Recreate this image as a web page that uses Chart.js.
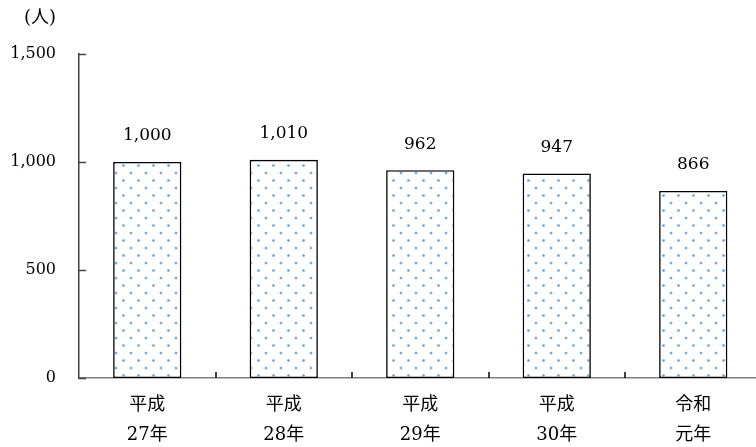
<!DOCTYPE html>
<html>
<head>
<meta charset="utf-8">
<script src="https://cdn.jsdelivr.net/npm/chart.js@4/dist/chart.umd.min.js"></script>
<style>
  html, body { margin: 0; padding: 0; background: #fff; overflow: hidden; }
  #wrap { width: 770px; height: 447px; position: relative; }
</style>
</head>
<body>
<div id="wrap"><canvas id="c"></canvas></div>
<script>
const categories = [['平成', '27年'], ['平成', '28年'], ['平成', '29年'], ['平成', '30年'], ['令和', '元年']];
const values = [1000, 1010, 962, 947, 866];
const yTicks = [0, 500, 1000, 1500];
const unitLabel = '(人)';

const FONT = '"DejaVu Serif", "Noto Sans CJK JP", serif';

function makePattern() {
  const t = document.createElement('canvas');
  t.width = 15; t.height = 15;
  const g = t.getContext('2d');
  g.fillStyle = '#fff';
  g.fillRect(0, 0, 15, 15);
  const dots = [[3.5, 0.5], [11, 8]];
  const draw = (r, col) => {
    g.fillStyle = col;
    dots.forEach(([x, y]) => {
      g.beginPath(); g.arc(x, y, r, 0, Math.PI * 2); g.fill();
      if (y < 2) { g.beginPath(); g.arc(x, y + 15, r, 0, Math.PI * 2); g.fill(); }
    });
  };
  draw(1.6, 'rgba(91,155,213,0.5)');
  draw(0.9, 'rgba(91,155,213,0.95)');
  return document.getElementById('c').getContext('2d').createPattern(t, 'repeat');
}

const extras = {
  id: 'extras',
  afterDraw(chart) {
    const ctx = chart.ctx;
    const x = chart.scales.x, y = chart.scales.y;
    ctx.save();
    ctx.strokeStyle = '#404040';
    ctx.lineWidth = 1.5;
    yTicks.forEach(v => {
      const py = Math.round(y.getPixelForValue(v)) + 0.5;
      ctx.beginPath(); ctx.moveTo(x.left, py); ctx.lineTo(x.left + 7, py); ctx.stroke();
    });
    ctx.strokeStyle = '#000';
    for (let i = 1; i < categories.length; i++) {
      const px = Math.round((x.getPixelForValue(i - 1) + x.getPixelForValue(i)) / 2);
      ctx.beginPath(); ctx.moveTo(px, y.bottom); ctx.lineTo(px, y.bottom - 6); ctx.stroke();
    }
    ctx.fillStyle = '#000';
    ctx.font = '17px ' + FONT;
    ctx.textAlign = 'center';
    ctx.textBaseline = 'middle';
    const meta = chart.getDatasetMeta(0);
    meta.data.forEach((bar, i) => {
      ctx.fillText(values[i].toLocaleString('en-US'), bar.x, bar.y - 26);
    });
    ctx.font = '18px ' + FONT;
    ctx.fillText(unitLabel, 40, 18);
    ctx.restore();
  }
};

new Chart(document.getElementById('c'), {
  type: 'bar',
  data: {
    labels: categories,
    datasets: [{
      data: values,
      backgroundColor: makePattern(),
      borderColor: '#000',
      borderWidth: 1.6,
      borderSkipped: false,
      barPercentage: 0.5,
      categoryPercentage: 1.0
    }]
  },
  options: {
    responsive: true,
    maintainAspectRatio: false,
    animation: false,
    layout: { padding: { top: 54, right: 8.5, left: 0, bottom: 0 } },
    plugins: { legend: { display: false }, tooltip: { enabled: false } },
    scales: {
      x: {
        grid: { display: false, drawTicks: false },
        border: { display: true, color: '#808080', width: 1.5 },
        ticks: {
          color: '#000',
          font: { family: FONT, size: 18, lineHeight: 1.68 },
          padding: 12,
          maxRotation: 0
        },
        afterFit(s) { s.height = 69; }
      },
      y: {
        min: 0, max: 1500,
        grid: { display: false, drawTicks: false },
        border: { display: true, color: '#404040', width: 1.5 },
        afterBuildTicks(s) { s.ticks = yTicks.map(v => ({ value: v })); },
        ticks: {
          color: '#000',
          font: { family: FONT, size: 16 },
          padding: 23,
          callback: v => v.toLocaleString('en-US')
        },
        afterFit(s) { s.width = 79; }
      }
    }
  },
  plugins: [extras]
});
</script>
</body>
</html>
